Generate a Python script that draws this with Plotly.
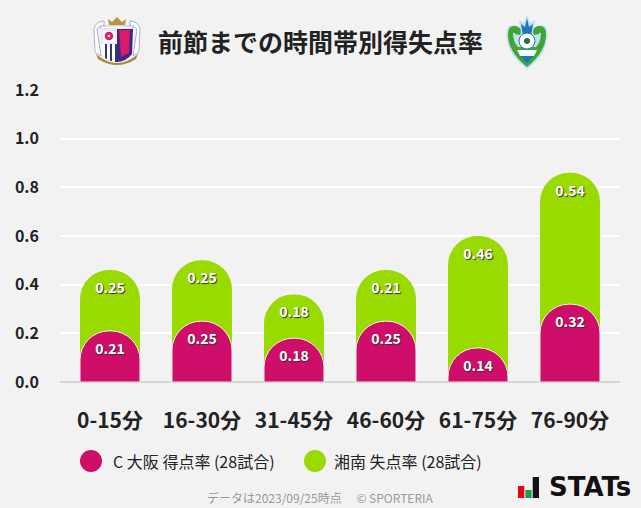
import base64
import plotly.graph_objects as go

categories = ["0-15分", "16-30分", "31-45分", "46-60分", "61-75分", "76-90分"]
cerezo_rate = [0.21, 0.25, 0.18, 0.25, 0.14, 0.32]
bellmare_rate = [0.25, 0.25, 0.18, 0.21, 0.46, 0.54]
tick_values = [0.0, 0.2, 0.4, 0.6, 0.8, 1.0, 1.2]
totals = [a + b for a, b in zip(cerezo_rate, bellmare_rate)]

FONT = "Noto Sans CJK JP"
W, H = 641, 508
PINK = "#CE0E69"
GREEN = "#99DA00"
SHADOW = "1px 1px 1px #333"


def svg_uri(svg):
    return "data:image/svg+xml;base64," + base64.b64encode(svg.encode()).decode()


crest_a = """<svg xmlns='http://www.w3.org/2000/svg' viewBox='0 0 50 52'>
<path d='M17 9 L16 3 L20 6 L25 1 L30 6 L34 3 L33 9 Z' fill='#B8963E'/>
<path d='M12 5 Q4 5 2 13 L3 36 L9 40 L5 13 Q8 9 12 10 Z' fill='#fff' stroke='#8C8CC0' stroke-width='.7'/>
<path d='M38 5 Q46 5 48 13 L47 36 L41 40 L45 13 Q42 9 38 10 Z' fill='#fff' stroke='#8C8CC0' stroke-width='.7'/>
<rect x='9' y='10' width='32' height='3' fill='#fff' stroke='#8C8CC0' stroke-width='.5'/>
<path d='M9 13 H25 V46 Q15 45 10 38 Z' fill='#fff'/>
<path d='M25 13 H41 L40 38 Q35 45 25 46 Z' fill='#3A2A80'/>
<path d='M27 14 H38 L37 37 L29 41 Z' fill='#D81B6A'/>
<rect x='10' y='14' width='14' height='13' fill='#fff' stroke='#B0B0C8' stroke-width='.5'/>
<circle cx='17' cy='20' r='4.3' fill='#D81B6A'/><circle cx='17' cy='20' r='1.3' fill='#fff'/>
<path d='M13 28 V42 L15 43 V28 Z M18 28 V45 H20 V28 Z' fill='#35357E'/>
<path d='M23 28 V46 H25 V28 Z' fill='#35357E'/>
<path d='M4 38 Q25 56 46 38 L44 43 Q25 55 6 43 Z' fill='#A98C42'/>
</svg>"""

crest_b = """<svg xmlns='http://www.w3.org/2000/svg' viewBox='0 0 44 56'>
<path d='M22 1 L25 9 L30 6 L29 14 Q34 10 40 12 Q44 18 42 26 Q40 42 22 55 Q4 42 2 26 Q0 18 4 12 Q10 10 15 14 L14 6 L19 9 Z' fill='#BFE0EF'/>
<path d='M22 4 L24 13 L28 10 L26 22 H18 L16 10 L20 13 Z' fill='#1E78BE'/>
<path d='M3 20 Q3 11 11 12 Q18 14 15 21 L10 20 Q10 18 8 19 Q8 28 13 33 H31 Q36 28 36 19 Q34 18 34 20 L29 21 Q26 14 33 12 Q41 11 41 20 Q41 38 22 53 Q3 38 3 20 Z' fill='#3FA535'/>
<circle cx='22' cy='27' r='8' fill='#fff' stroke='#1E78BE'/>
<circle cx='22' cy='27' r='3' fill='#2A6A50'/>
<path d='M12 36 H32 L29 42 H15 Z' fill='#F4FAF8'/>
<path d='M15 42 H29 L22 49 Z' fill='#1E78BE'/>
</svg>"""

stats_bars = """<svg xmlns='http://www.w3.org/2000/svg' viewBox='0 0 20 21'>
<rect x='0' y='9' width='6' height='12' fill='#E60012'/>
<rect x='7' y='13' width='6' height='8' fill='#1B9E4B'/>
<rect x='14' y='0' width='6' height='21' fill='#111'/>
</svg>"""

fig = go.Figure()
fig.add_bar(
    x=categories, y=totals, name="湘南 失点率 (28試合)",
    marker=dict(color=GREEN, line=dict(width=0)),
    text=[f"{v:.2f}" for v in bellmare_rate], textposition="inside",
    insidetextanchor="end", textangle=0,
    textfont=dict(family=FONT, size=14, color="#fff", weight=700, shadow=SHADOW),
    hoverinfo="skip", showlegend=False,
)
fig.add_bar(
    x=categories, y=cerezo_rate, name="C 大阪 得点率 (28試合)", yaxis="y2",
    marker=dict(color=PINK, line=dict(color="#F4F4E8", width=1)),
    text=[f"{v:.2f}" for v in cerezo_rate], textposition="inside",
    insidetextanchor="end", textangle=0,
    textfont=dict(family=FONT, size=14, color="#fff", weight=700, shadow=SHADOW),
    hoverinfo="skip", showlegend=False,
)

images = [
    dict(source=svg_uri(crest_a), x=92 / W, y=1 - 16 / H, sizex=50 / W, sizey=52 / H),
    dict(source=svg_uri(crest_b), x=505 / W, y=1 - 14 / H, sizex=44 / W, sizey=56 / H),
    dict(source=svg_uri(stats_bars), x=518 / W, y=1 - 477 / H, sizex=21 / W, sizey=21 / H),
]
for im in images:
    im.update(xref="paper", yref="paper", xanchor="left", yanchor="top", layer="above", sizing="stretch")


def note(text, x, y, size, color="#222", weight=400, anchor="left", family=FONT):
    return dict(text=text, x=x / W, y=1 - y / H, xref="paper", yref="paper", xanchor=anchor,
                yanchor="middle", showarrow=False,
                font=dict(family=family, size=size, color=color, weight=weight))


annotations = [
    note("前節までの時間帯別得失点率", 156, 41, 25, "#222", 700),
    note("C 大阪 得点率 (28試合)", 111, 461, 16),
    note("湘南 失点率 (28試合)", 332, 461, 16),
    note("データは2023/09/25時点 　© SPORTERIA", 320, 497, 12, "#999", 400, "center"),
    note("STATs", 547, 487, 26, "#111", 700, family="DejaVu Sans"),
]

shapes = [
    dict(type="circle", xref="paper", yref="paper", x0=80 / W, x1=102 / W,
         y0=1 - 472 / H, y1=1 - 450 / H, fillcolor=PINK, line_width=0),
    dict(type="circle", xref="paper", yref="paper", x0=304 / W, x1=326 / W,
         y0=1 - 472 / H, y1=1 - 450 / H, fillcolor=GREEN, line_width=0),
]

fig.update_layout(
    width=W, height=H, autosize=False,
    paper_bgcolor="#F2F2F2", plot_bgcolor="#F2F2F2",
    margin=dict(l=0, r=0, t=0, b=0, autoexpand=False),
    barmode="overlay", bargap=0.348, barcornerradius=29,
    uniformtext=dict(mode=False),
    images=images, annotations=annotations, shapes=shapes,
    xaxis=dict(
        domain=[60 / W, 620 / W], type="category", showgrid=False, ticks="",
        range=[-0.5435, 5.5435], autorange=False,
        showline=False, zeroline=False, automargin=False,
        tickfont=dict(family=FONT, size=21, color="#222", weight=700),
        ticklabelstandoff=24,
    ),
    yaxis=dict(
        domain=[1 - 382 / H, 1 - 90 / H], range=[0, 1.2], tickvals=tick_values,
        tickformat=".1f", showgrid=True, gridcolor="#FFFFFF", gridwidth=2,
        zeroline=True, zerolinecolor="#D5D5D5", zerolinewidth=2, showline=False, ticks="",
        tickfont=dict(family=FONT, size=16, color="#222", weight=700),
        ticklabelstandoff=20, automargin=False,
    ),
    yaxis2=dict(
        domain=[1 - 382 / H, 1 - 90 / H], range=[0, 1.2], overlaying="y", visible=False,
        showgrid=False, zeroline=False,
    ),
)

fig.write_html(
    "out.html",
    config=dict(displayModeBar=False),
    post_script="document.body.style.margin='0';document.body.style.overflow='hidden';",
)
